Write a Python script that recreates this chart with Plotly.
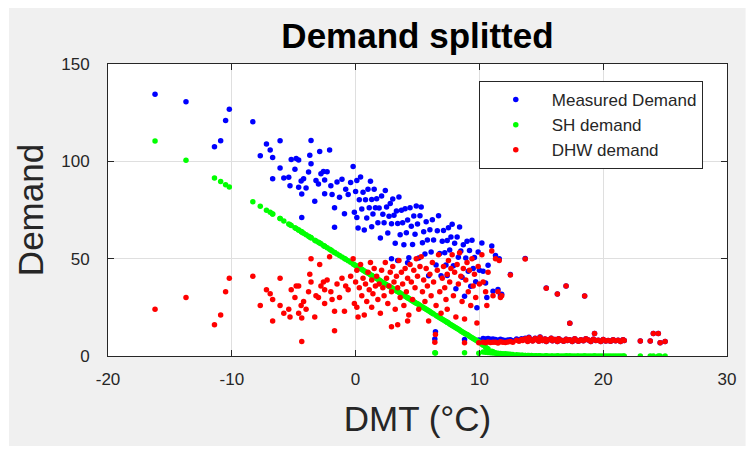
import plotly.graph_objects as go

# ---- data: one entry per day (DMT, SH demand, DHW demand, measured demand) ----
dmt = [
    -16.2, -13.7, -11.4, -10.9, -10.5, -10.2, -8.3, -7.7, -7.2, -6.9, -6.7, -6.7, -6.1, -6.1, -5.8, -5.4, -5.3, -5.2,
    -4.9, -4.8, -4.6, -4.6, -4.4, -4.35, -4.35, -4.2, -4.0, -3.8, -3.7, -3.6, -3.6, -3.3, -3.2, -3.0, -2.9, -2.8,
    -2.6, -2.5, -2.5, -2.3, -2.1, -2.0, -1.9, -1.7, -1.7, -1.5, -1.3, -1.1, -0.9, -0.8, -0.6, -0.4, -0.2, -0.1,
    0.0, 0.1, 0.1, 0.2, 0.3, 0.4, 0.5, 0.6, 0.7, 0.8, 0.9, 1.0, 1.1, 1.2, 1.3, 1.3, 1.4, 1.5, 1.6, 1.7, 1.8, 1.9,
    2.0, 2.1, 2.2, 2.3, 2.4, 2.5, 2.6, 2.7, 2.8, 2.9, 2.9, 3.0, 3.1, 3.2, 3.3, 3.4, 3.4, 3.5, 3.6, 3.7, 3.8, 3.9,
    4.0, 4.1, 4.2, 4.2, 4.3, 4.4, 4.5, 4.6, 4.7, 4.8, 4.9, 5.0, 5.1, 5.2, 5.3, 5.4, 5.5, 5.6, 5.7, 5.8, 5.9, 6.0, 6.1,
    6.2, 6.3, 6.5, 6.6, 6.7, 6.8, 6.9, 7.0, 7.1, 7.2, 7.3, 7.4, 7.4, 7.5, 7.6, 7.7, 7.8, 7.9, 8.0, 8.1, 8.2, 8.3,
    8.4, 8.5, 8.6, 8.7, 8.8, 8.9, 9.0, 9.1, 9.2, 9.3, 9.4, 9.5, 9.6, 9.7, 9.8, 9.9, 10.0,
    6.4, 6.45, 8.8, 9.95,
    10.2, 10.3, 10.5, 10.6, 10.7, 11.0, 11.1, 11.3, 11.5, 11.6, 11.7, 11.8, 12.5,
    10.3, 10.5, 10.7, 10.9, 11.1, 11.3, 11.5, 11.7, 11.9, 12.1, 12.3, 12.5, 12.7,
    13.0, 13.2, 13.4, 13.5, 13.7, 13.9, 14.0, 14.2, 14.3, 14.5, 14.6, 14.8, 14.9, 15.1, 15.3, 15.4, 15.6, 15.8,
    15.9, 16.1, 16.3, 16.4, 16.6, 16.8, 17.0, 17.1, 17.3, 17.5, 17.7, 17.9, 18.0, 18.2, 18.4, 18.6, 18.8, 19.0,
    19.2, 19.4, 19.6, 19.8, 20.0, 20.2, 20.4, 20.6, 20.8, 21.0, 21.2, 21.4, 21.6, 21.7,
    13.7, 15.4, 16.3, 17.0, 17.3, 18.5, 19.3, 23.0, 23.8, 24.05, 24.45, 24.6, 25.0,
]

sh_demand = [
    110.5, 100.6, 91.5, 89.6, 88.0, 86.8, 79.3, 76.9, 74.9, 73.8, 73.0, 73.0, 70.6, 70.6, 69.4, 67.8, 67.4, 67.0,
    65.9, 65.5, 64.7, 64.7, 63.9, 63.7, 63.7, 63.1, 62.3, 61.5, 61.1, 60.7, 60.7, 59.5, 59.1, 58.4, 58.0, 57.6,
    56.8, 56.4, 56.4, 55.6, 54.8, 54.4, 54.0, 53.2, 53.2, 52.4, 51.6, 50.8, 50.1, 49.7, 48.9, 48.1, 47.3, 46.9,
    46.5, 46.1, 46.1, 45.7, 45.3, 44.9, 44.5, 44.1, 43.7, 43.3, 42.9, 42.6, 42.2, 41.8, 41.4, 41.4, 41.0, 40.6, 40.2, 39.8, 39.4, 39.0,
    38.6, 38.2, 37.8, 37.4, 37.0, 36.6, 36.2, 35.8, 35.4, 35.0, 35.0, 34.7, 34.3, 33.9, 33.5, 33.1, 33.1, 32.7, 32.3, 31.9, 31.5, 31.1,
    30.7, 30.3, 29.9, 29.9, 29.5, 29.1, 28.7, 28.3, 27.9, 27.5, 27.1, 26.8, 26.4, 26.0, 25.6, 25.2, 24.8, 24.4, 24.0, 23.6, 23.2, 22.8, 22.4,
    22.0, 21.6, 20.8, 20.4, 20.0, 19.6, 19.2, 18.9, 18.5, 18.1, 17.7, 17.3, 17.3, 16.9, 16.5, 16.1, 15.7, 15.3, 14.9, 14.5, 14.1, 13.7,
    13.3, 12.9, 12.5, 12.1, 11.7, 11.3, 11.0, 10.6, 10.2, 9.8, 9.4, 9.0, 8.6, 8.2, 7.8, 7.4, 7.0,
    1.7, 1.5, 1.7, 1.4,
    6.0, 5.5, 4.5, 4.0, 3.6, 2.5, 2.2, 1.6, 1.2, 1.0, 0.9, 0.7, 0.3,
    2.0, 1.9, 1.8, 1.7, 1.6, 1.5, 1.4, 1.3, 1.2, 1.1, 1.0, 0.9, 0.8,
    0.6, 0.5, 0.4, 0.4, 0.3, 0.3, 0.2, 0.2, 0.1, 0.1, 0.1, 0.1, 0.1, 0.0, 0.0, 0.0, 0.0, 0.0,
    0.0, 0.0, 0.0, 0.0, 0.0, 0.0, 0.0, 0.0, 0.0, 0.0, 0.0, 0.0, 0.0, 0.0, 0.0, 0.0, 0.0, 0.0,
    0.0, 0.0, 0.0, 0.0, 0.0, 0.0, 0.0, 0.0, 0.0, 0.0, 0.0, 0.0, 0.0, 0.0,
    0.3, 0.1, 0.0, 0.0, 0.0, 0.0, 0.0, 0.0, 0.0, 0.0, 0.0, 0.0, 0.0,
]

dhw_demand = [
    24, 30, 16, 21, 33, 40, 41, 26, 34, 32, 29, 18, 40, 26, 22, 24, 20, 34,
    30, 36, 36, 22, 26, 7.5, 19.5, 28, 24, 33, 42, 50, 38, 20, 31, 30, 47, 36,
    38, 27, 34, 39, 51, 33, 29, 13, 23, 37, 30, 40, 23, 36, 34, 41, 50, 27,
    38, 44, 25, 20, 35, 47, 31, 40, 21, 37, 28, 43, 34, 48, 39, 25, 32, 45, 36, 41, 29, 37,
    22, 44, 35, 31, 48, 40, 27, 36, 43, 33, 15, 46, 38, 24, 41, 35, 16, 49, 30, 43, 37, 26,
    45, 33, 40, 18, 21, 47, 38, 29, 44, 35, 50, 41, 24, 46, 51, 33, 39, 28, 45, 36, 18, 42, 31,
    48, 38, 26, 44, 52, 33, 22, 40, 46, 35, 29, 42, 24, 49, 38, 45, 52, 31, 43, 20, 47, 37,
    53, 41, 28, 45, 19, 39, 48, 33, 44, 26, 50, 36, 42, 30, 17, 46, 37,
    7.0, 11.0, 6.8, 6.8,
    52, 38, 33, 26, 43, 54, 31, 50, 33, 49, 30, 31, 41.6,
    7.0, 6.8, 7.2, 6.9, 7.1, 7.0, 6.7, 7.3, 7.0, 6.9, 7.2, 7.5, 7.0,
    8.1, 7.6, 8.5, 7.9, 8.8, 7.4, 9.4, 8.2, 7.7, 9.0, 8.4, 7.6, 9.6, 8.0, 8.7, 7.5, 8.3, 9.1,
    7.8, 8.5, 7.4, 8.9, 8.1, 7.6, 8.6, 7.9, 8.3, 7.5, 8.8, 8.0, 7.6, 8.4, 7.8, 8.9, 8.2, 7.5,
    8.6, 7.9, 8.1, 7.4, 8.5, 7.7, 8.0, 7.6, 8.3, 7.8, 8.1, 7.5, 8.4, 7.9,
    49.8, 34.8, 31.8, 36.0, 16.8, 30.8, 11.6, 7.7, 7.7, 11.6, 11.6, 6.8, 7.5,
]

measured_demand = [
    134.5, 130.6, 107.5, 110.6, 121.0, 126.8, 120.3, 102.9, 108.9, 105.8, 102.0, 91.0, 110.6, 96.6, 91.4, 91.8, 87.4, 101.0,
    95.9, 101.5, 100.7, 86.7, 89.9, 71.2, 83.2, 91.1, 86.3, 94.5, 103.1, 110.7, 98.7, 79.5, 90.1, 88.4, 105.0, 93.6,
    94.8, 83.4, 90.4, 94.6, 105.8, 87.4, 83.0, 66.2, 76.2, 89.4, 81.6, 90.8, 73.1, 85.7, 82.9, 89.1, 97.3, 73.9,
    84.5, 90.1, 71.1, 65.7, 80.3, 91.9, 75.5, 84.1, 64.7, 80.3, 70.9, 85.6, 76.2, 89.8, 80.4, 66.4, 73.0, 85.6, 76.2, 80.8, 68.4, 76.0,
    60.6, 82.2, 72.8, 68.4, 85.0, 76.6, 63.2, 71.8, 78.4, 68.0, 50.0, 80.7, 72.3, 57.9, 74.5, 68.1, 49.1, 81.7, 62.3, 74.9, 68.5, 57.1,
    75.7, 63.3, 69.9, 47.9, 50.5, 76.1, 66.7, 57.3, 71.9, 62.5, 77.1, 67.8, 50.4, 72.0, 76.6, 58.2, 63.8, 52.4, 69.0, 59.6, 41.2, 64.8, 53.4,
    70.0, 59.6, 46.8, 64.4, 72.0, 52.6, 41.2, 58.9, 64.5, 53.1, 46.7, 59.3, 41.3, 65.9, 54.5, 61.1, 67.7, 46.3, 57.9, 34.5, 61.1, 50.7,
    66.3, 53.9, 40.5, 57.1, 30.7, 50.3, 59.0, 43.6, 54.2, 35.8, 59.4, 45.0, 50.6, 38.2, 24.8, 53.4, 44.0,
    8.7, 12.5, 8.5, 8.2,
    58.0, 43.5, 37.5, 30.0, 46.6, 56.5, 33.2, 51.6, 34.2, 50.0, 30.9, 31.7, 41.9,
    9.0, 8.7, 9.0, 8.6, 8.7, 8.5, 8.1, 8.6, 8.2, 8.0, 8.2, 8.4, 7.8,
    8.7, 8.1, 8.9, 8.3, 9.1, 7.7, 9.6, 8.4, 7.8, 9.1, 8.5, 7.7, 9.7, 8.0, 8.7, 7.5, 8.3, 9.1,
    7.8, 8.5, 7.4, 8.9, 8.1, 7.6, 8.6, 7.9, 8.3, 7.5, 8.8, 8.0, 7.6, 8.4, 7.8, 8.9, 8.2, 7.5,
    8.6, 7.9, 8.1, 7.4, 8.5, 7.7, 8.0, 7.6, 8.3, 7.8, 8.1, 7.5, 8.4, 7.9,
    50.1, 34.9, 31.8, 36.0, 16.8, 30.8, 11.6, 7.7, 7.7, 11.6, 11.6, 6.8, 7.5,
]

x_ticks = [-20, -10, 0, 10, 20, 30]
y_ticks = [0, 50, 100, 150]

FONT = "Liberation Sans, Arial, Helvetica, sans-serif"
AX = "#262626"

fig = go.Figure()
fig.add_trace(go.Scatter(x=dmt, y=measured_demand, mode="markers", name="Measured Demand",
                         marker=dict(color="#0000ff", size=5.5, line=dict(width=0))))
fig.add_trace(go.Scatter(x=dmt, y=sh_demand, mode="markers", name="SH demand",
                         marker=dict(color="#00ff00", size=5.5, line=dict(width=0))))
fig.add_trace(go.Scatter(x=dmt, y=dhw_demand, mode="markers", name="DHW demand",
                         marker=dict(color="#ff0000", size=5.5, line=dict(width=0))))

axis_common = dict(
    ticks="inside", ticklen=6, tickcolor=AX, showline=True, linecolor=AX, linewidth=1,
    mirror="ticks", showgrid=True, gridcolor="#dfdfdf", gridwidth=1, zeroline=False,
    tickfont=dict(family=FONT, size=17, color=AX),
)

fig.update_xaxes(range=[-20, 30], tickvals=x_ticks, ticktext=[str(v) for v in x_ticks],
                 ticklabelstandoff=8,
                 title=dict(text="DMT (°C)", font=dict(family=FONT, size=35, color=AX), standoff=18),
                 **axis_common)
fig.update_yaxes(range=[0, 150], tickvals=y_ticks, ticktext=[str(v) for v in y_ticks],
                 ticklabelstandoff=14,
                 title=dict(text="Demand", font=dict(family=FONT, size=35, color=AX), standoff=6),
                 **axis_common)

fig.update_layout(
    width=748, height=453,
    margin=dict(l=108, r=16, t=64, b=97),
    paper_bgcolor="white", plot_bgcolor="rgba(0,0,0,0)",
    title=dict(text="Demand splitted", x=0.5, xref="paper", y=1 - 36 / 453, yref="container",
               xanchor="center", yanchor="middle",
               font=dict(family=FONT, size=35, color="black", weight="bold")),
    legend=dict(x=0.599, y=0.9418, xanchor="left", yanchor="top", bgcolor="white",
                bordercolor=AX, borderwidth=1, font=dict(family=FONT, size=17, color=AX),
                itemwidth=62, tracegroupgap=0),
    shapes=[
        dict(type="rect", xref="paper", yref="paper", x0=-0.16, x1=1.03, y0=-0.308, y1=1.192,
             fillcolor="#f0f0f0", line=dict(width=0), layer="below"),
        dict(type="rect", xref="paper", yref="paper", x0=0, x1=1, y0=0, y1=1,
             fillcolor="white", line=dict(width=0), layer="below"),
    ],
    showlegend=True,
)

fig.write_html("out.html")
